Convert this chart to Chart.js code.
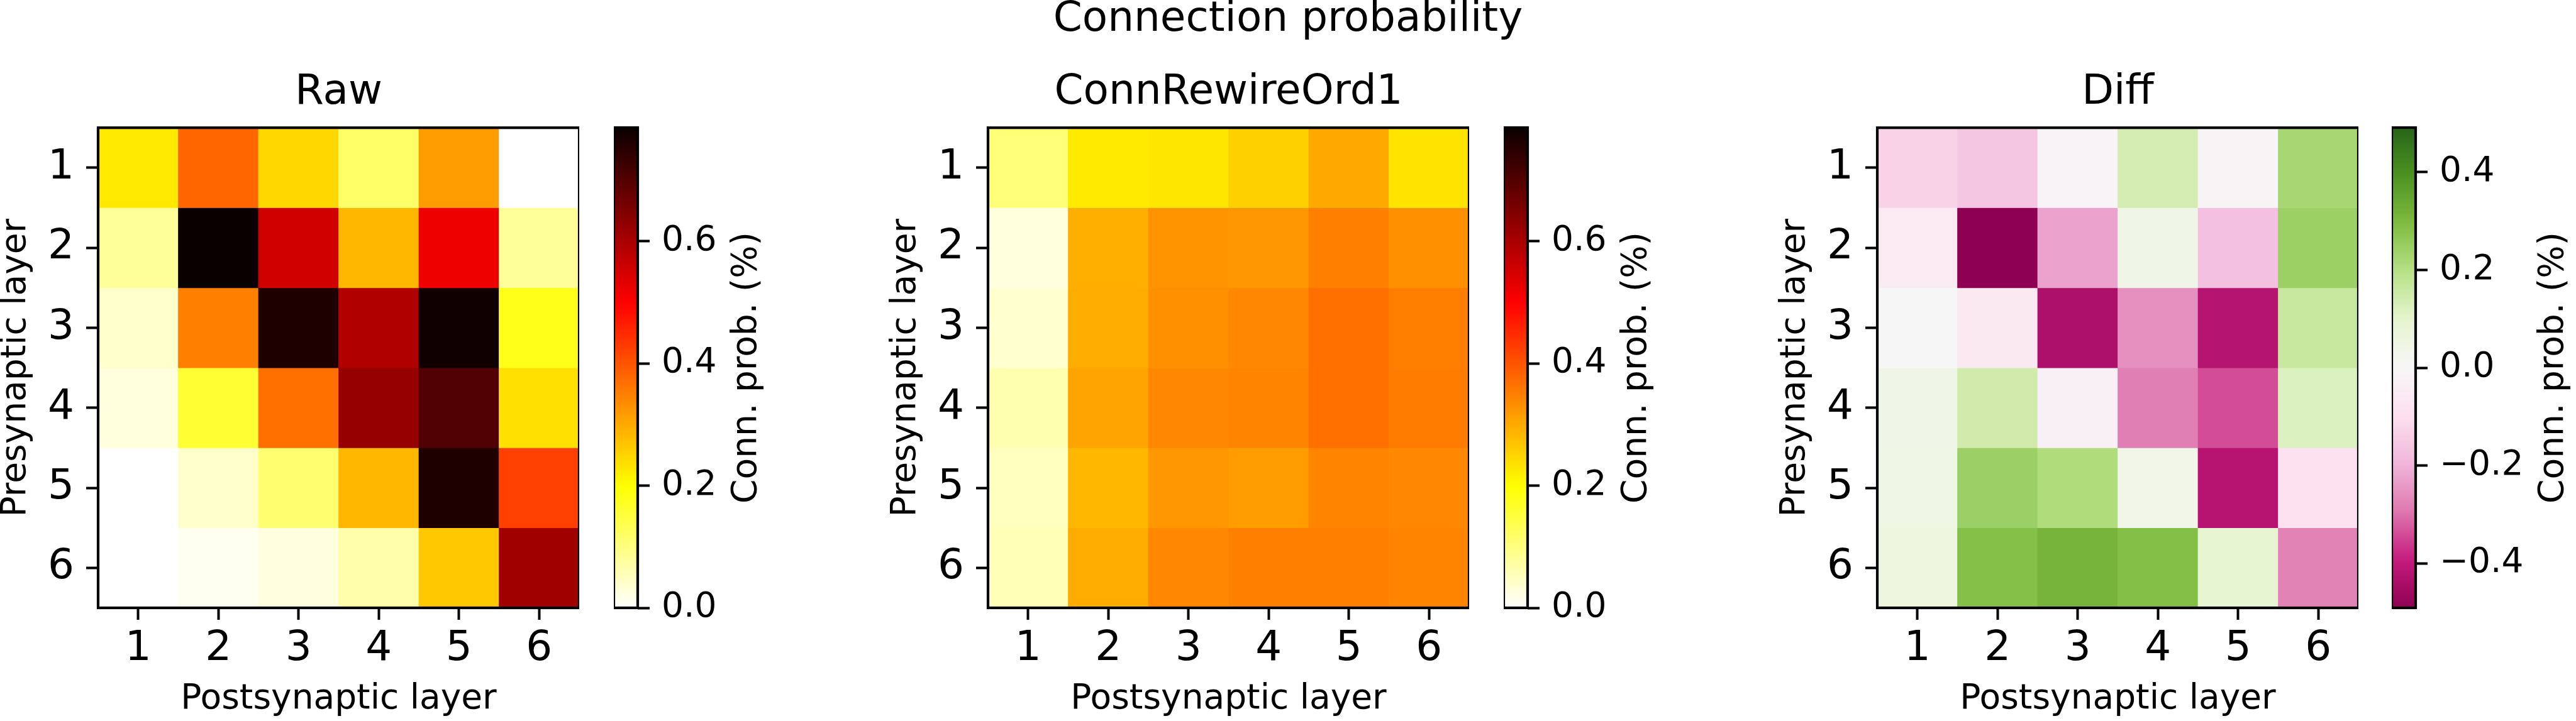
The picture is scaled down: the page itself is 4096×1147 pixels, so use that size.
<!DOCTYPE html>
<html>
<head>
<meta charset="utf-8">
<script src="https://cdn.jsdelivr.net/npm/chart.js@4.4.1/dist/chart.umd.min.js"></script>
<style>
  html, body { margin: 0; padding: 0; background: #fff; }
  body { width: 4096px; height: 1147px; position: relative; overflow: hidden; }
  .box { position: absolute; top: 0; height: 1147px; }
  #suptitle {
    position: absolute; left: 0; width: 4096px; top: -6px;
    text-align: center; font: 66px/66px 'DejaVu Sans', sans-serif; color: #000;
  }
</style>
</head>
<body>
<div id="suptitle">Connection probability</div>

<script>
// layers
const postLayers = ['1', '2', '3', '4', '5', '6']
const preLayers = ['1', '2', '3', '4', '5', '6']

// connection probability (%), rows = presynaptic layer, columns = postsynaptic layer
const rawProb = [
  [0.226, 0.379, 0.245, 0.119, 0.316, 0.000],
  [0.080, 0.785, 0.554, 0.284, 0.518, 0.080],
  [0.040, 0.349, 0.763, 0.592, 0.778, 0.180],
  [0.027, 0.159, 0.367, 0.622, 0.704, 0.236],
  [0.000, 0.040, 0.112, 0.284, 0.763, 0.424],
  [0.000, 0.012, 0.024, 0.067, 0.264, 0.610]
]
const rewiredProb = [
  [0.106, 0.224, 0.229, 0.255, 0.302, 0.231],
  [0.027, 0.294, 0.325, 0.321, 0.349, 0.330],
  [0.037, 0.295, 0.330, 0.339, 0.368, 0.351],
  [0.062, 0.306, 0.339, 0.344, 0.368, 0.354],
  [0.049, 0.284, 0.321, 0.316, 0.344, 0.339],
  [0.056, 0.297, 0.339, 0.349, 0.349, 0.344]
]
const diffProb = [
  [-0.130, -0.160, -0.015, 0.140, -0.012, 0.225],
  [-0.050, -0.491, -0.228, 0.040, -0.172, 0.245],
  [-0.005, -0.060, -0.436, -0.255, -0.422, 0.165],
  [0.040, 0.146, -0.030, -0.282, -0.340, 0.120],
  [0.048, 0.244, 0.210, 0.035, -0.418, -0.090],
  [0.062, 0.285, 0.313, 0.287, 0.090, -0.276]
]

// colour ranges and colorbar ticks
const probRange = [0, 0.786]
const diffRange = [-0.491, 0.491]
const probTicks = [0, 0.2, 0.4, 0.6]
const diffTicks = [-0.4, -0.2, 0, 0.2, 0.4]

// ---- colormaps ----
const clamp = (v) => Math.min(1, Math.max(0, v))
const rgb = (r, g, b) => `rgb(${Math.round(r * 255)},${Math.round(g * 255)},${Math.round(b * 255)})`

function hotR(t) {
  const s = 1 - clamp(t)
  const r = s < 0.365079 ? 0.0416 + (1 - 0.0416) * s / 0.365079 : 1
  const g = s < 0.365079 ? 0 : s < 0.746032 ? (s - 0.365079) / (0.746032 - 0.365079) : 1
  const b = s < 0.746032 ? 0 : (s - 0.746032) / (1 - 0.746032)
  return rgb(r, g, b)
}

const piygStops = [
  [142, 1, 82], [197, 27, 125], [222, 119, 174], [241, 182, 218], [253, 224, 239],
  [247, 247, 247], [230, 245, 208], [184, 225, 134], [127, 188, 65], [77, 146, 33], [39, 100, 25]
]
function piyg(t) {
  const x = clamp(t) * (piygStops.length - 1)
  const i = Math.min(Math.floor(x), piygStops.length - 2)
  const f = x - i
  const a = piygStops[i], b = piygStops[i + 1]
  return `rgb(${Math.round(a[0] + (b[0] - a[0]) * f)},${Math.round(a[1] + (b[1] - a[1]) * f)},${Math.round(a[2] + (b[2] - a[2]) * f)})`
}

// ---- layout (px in the 4096x1147 window) ----
const FONT = "'DejaVu Sans', sans-serif"
const plotLeft = [156, 1571, 2985]
const plotWidth = 765
const plotTop = 203
const xAxisHeight = 180
const yAxisWidth = 200
const cbarLeft = [976, 2391, 3803]
const cbarWidth = 38
const cbarAxisWidth = 300
const tickLen = 19
const lineW = 4.2

const framePlugin = {
  id: 'frame',
  afterDatasetsDraw(chart) {
    const { ctx, chartArea: a } = chart
    ctx.save()
    ctx.lineWidth = lineW
    ctx.strokeStyle = '#000'
    ctx.strokeRect(a.left, a.top, a.right - a.left, a.bottom - a.top)
    ctx.restore()
  }
}

const cbarLabelPlugin = {
  id: 'cbarLabel',
  afterDraw(chart, args, opts) {
    const { ctx, chartArea: a } = chart
    const ys = chart.scales.y
    ctx.save()
    ctx.font = `${opts.size}px ${FONT}`
    const tickW = Math.max(...ys.ticks.map(t => ctx.measureText(t.label).width))
    const x = a.right + tickLen + 19 + tickW + 48
    ctx.translate(x, (a.top + a.bottom) / 2)
    ctx.rotate(-Math.PI / 2)
    ctx.textAlign = 'center'
    ctx.textBaseline = 'middle'
    ctx.fillStyle = '#000'
    ctx.fillText(opts.text, 0, 0)
    ctx.restore()
  }
}

function makeBox(left, width) {
  const div = document.createElement('div')
  div.className = 'box'
  div.style.left = left + 'px'
  div.style.width = width + 'px'
  const canvas = document.createElement('canvas')
  div.appendChild(canvas)
  document.body.appendChild(div)
  return canvas
}

const tickGrid = {
  display: true,
  drawOnChartArea: false,
  drawTicks: true,
  tickLength: tickLen,
  tickWidth: 4,
  tickColor: '#000',
  offset: false
}

function heatmap(idx, title, matrix, cmap, range) {
  const canvas = makeBox(plotLeft[idx] - yAxisWidth, plotWidth + yAxisWidth)
  const norm = (v) => (v - range[0]) / (range[1] - range[0])
  const datasets = preLayers.map((pre, i) => ({
    label: 'Presynaptic ' + pre,
    data: postLayers.map(() => [Number(pre) - 0.5, Number(pre) + 0.5]),
    values: matrix[i],
    backgroundColor: matrix[i].map(v => cmap(norm(v))),
    borderWidth: 0,
    grouped: false,
    barPercentage: 1,
    categoryPercentage: 1
  }))

  return new Chart(canvas.getContext('2d'), {
    type: 'bar',
    data: { labels: postLayers, datasets },
    options: {
      responsive: true,
      maintainAspectRatio: false,
      animation: false,
      devicePixelRatio: 1,
      layout: { padding: 0 },
      plugins: {
        legend: { display: false },
        title: {
          display: true,
          text: title,
          color: '#000',
          fullSize: false,
          font: { family: FONT, size: 66, weight: 'normal' },
          padding: { top: 108, bottom: 16 }
        },
        tooltip: {
          callbacks: {
            label: (c) => `${c.dataset.label}: ${c.dataset.values[c.dataIndex].toFixed(3)}`
          }
        }
      },
      scales: {
        x: {
          type: 'category',
          offset: true,
          grid: tickGrid,
          border: { display: false },
          ticks: {
            color: '#000',
            font: { family: FONT, size: 66 },
            padding: 7,
            maxRotation: 0,
            autoSkip: false
          },
          title: {
            display: true,
            text: 'Postsynaptic layer',
            color: '#000',
            font: { family: FONT, size: 55 },
            padding: { top: 0, bottom: 1 }
          },
          afterFit: (s) => { s.height = xAxisHeight }
        },
        y: {
          type: 'linear',
          min: 0.5,
          max: 6.5,
          reverse: true,
          afterBuildTicks: (s) => { s.ticks = preLayers.map(p => ({ value: Number(p) })) },
          grid: tickGrid,
          border: { display: false },
          ticks: {
            color: '#000',
            font: { family: FONT, size: 66 },
            padding: 19,
            callback: (v, i) => preLayers[i]
          },
          title: {
            display: true,
            text: 'Presynaptic layer',
            color: '#000',
            font: { family: FONT, size: 55 },
            padding: { top: 37, bottom: 0 }
          },
          afterFit: (s) => { s.width = yAxisWidth }
        }
      }
    },
    plugins: [framePlugin]
  })
}

function colorbar(idx, cmap, range, ticks) {
  const canvas = makeBox(cbarLeft[idx], cbarWidth + cbarAxisWidth)
  const fmt = (v) => (v < 0 ? '\u2212' : '') + Math.abs(v).toFixed(1)

  return new Chart(canvas.getContext('2d'), {
    type: 'bar',
    data: {
      labels: [''],
      datasets: [{
        data: [range],
        borderWidth: 0,
        barPercentage: 1,
        categoryPercentage: 1,
        backgroundColor: (c) => {
          const chart = c.chart
          if (!chart.chartArea) return null
          const ys = chart.scales.y
          const g = chart.ctx.createLinearGradient(0, ys.getPixelForValue(range[0]), 0, ys.getPixelForValue(range[1]))
          for (let k = 0; k <= 64; k++) g.addColorStop(k / 64, cmap(k / 64))
          return g
        }
      }]
    },
    options: {
      responsive: true,
      maintainAspectRatio: false,
      animation: false,
      devicePixelRatio: 1,
      layout: { padding: { top: plotTop, bottom: xAxisHeight, left: 0, right: 0 } },
      plugins: {
        legend: { display: false },
        tooltip: { enabled: false },
        cbarLabel: { text: 'Conn. prob. (%)', size: 55 }
      },
      scales: {
        x: { display: false, offset: true },
        y: {
          type: 'linear',
          position: 'right',
          min: range[0],
          max: range[1],
          afterBuildTicks: (s) => { s.ticks = ticks.map(v => ({ value: v })) },
          grid: tickGrid,
          border: { display: false },
          ticks: {
            color: '#000',
            font: { family: FONT, size: 55 },
            padding: 19,
            callback: (v) => fmt(v)
          },
          afterFit: (s) => { s.width = cbarAxisWidth }
        }
      }
    },
    plugins: [framePlugin, cbarLabelPlugin]
  })
}

heatmap(0, 'Raw', rawProb, hotR, probRange)
colorbar(0, hotR, probRange, probTicks)
heatmap(1, 'ConnRewireOrd1', rewiredProb, hotR, probRange)
colorbar(1, hotR, probRange, probTicks)
heatmap(2, 'Diff', diffProb, piyg, diffRange)
colorbar(2, piyg, diffRange, diffTicks)
</script>
</body>
</html>
